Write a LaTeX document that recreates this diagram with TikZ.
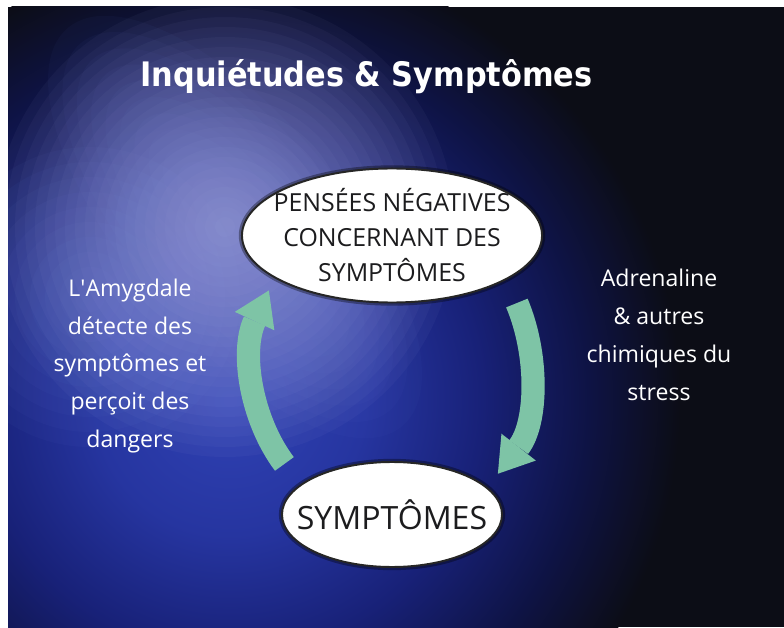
\documentclass[tikz,border=0pt]{standalone}
\usepackage{fontspec}
\setmainfont{Open Sans}
\newfontfamily\titlefont{DejaVu Sans Condensed}
\usetikzlibrary{positioning,arrows.meta,shapes.geometric,calc}

\definecolor{bgdark}{RGB}{12,13,22}
\definecolor{washA}{RGB}{48,66,180}
\definecolor{washB}{RGB}{38,53,160}
\definecolor{washC}{RGB}{24,33,120}
\definecolor{washD}{RGB}{14,19,68}
\definecolor{glowcol}{RGB}{186,186,236}
\definecolor{streakcol}{RGB}{96,116,210}
\definecolor{sidecol}{RGB}{110,134,222}
\definecolor{cycgreen}{RGB}{126,196,166}
\definecolor{inktext}{RGB}{28,28,30}

\pgfdeclareradialshading{bluewash}{\pgfpointorigin}{%
  color(0bp)=(washA); color(7.5bp)=(washB); color(14bp)=(washC);
  color(20bp)=(washD); color(25bp)=(bgdark); color(50bp)=(bgdark)}

% zero-width line, so the ellipse keeps its own size
\newcommand{\zw}[1]{\makebox[0pt]{#1}}

\begin{document}
\begin{tikzpicture}[x=0.025cm,y=0.025cm,
  bubble/.style={ellipse,draw=black!85,line width=1.4pt,fill=white,
                 inner sep=0pt,align=center,text=inktext,
                 preaction={draw=black,opacity=.35,line width=4.5pt}},
  sidetxt/.style={align=center,text=white,font=\fontsize{16.4}{27}\selectfont},
  cyc/.style={draw=cycgreen,line width=16.5pt,
              -{Triangle[length=24pt,width=31pt,line width=0pt]}},
  haze/.style={fill=#1,opacity=.045},
]
  % backdrop
  \fill[white] (0,0) rectangle (784,627);
  \begin{scope}
    \clip (8,0) rectangle (784,620);
    \fill[bgdark] (8,0) rectangle (784,620);
    \shade[shading=bluewash] (230,227) circle (450);
    \foreach \r in {20,40,...,260}
      \fill[haze=streakcol,rotate around={-50:(235,400)}]
        (235,400) ellipse ({\r} and {0.42*\r});
    \foreach \r in {15,30,...,150}
      \fill[haze=sidecol] (90,330) circle (\r);
    \foreach \r in {10,20,...,230}
      \fill[haze=glowcol] (225,400) circle (\r);
  \end{scope}

  \node[font=\titlefont\bfseries\fontsize{24}{28}\selectfont,text=white,anchor=base]
    (title) at (366.5,540) {Inquiétudes \& Symptômes};

  \node[bubble,minimum width=7.5cm,minimum height=3.35cm,
        font=\fontsize{17.7}{24.9}\selectfont] (pens) at (392,391.5)
    {\zw{PENSÉES NÉGATIVES}\\\zw{CONCERNANT DES}\\\zw{SYMPTÔMES}};
  \node[bubble,minimum width=5.5cm,minimum height=2.625cm,
        font=\fontsize{22.8}{27}\selectfont] (sym) at (392,112.5)
    {\zw{SYMPTÔMES}};

  \node[sidetxt] (amyg) at (130,261)
    {L\textquotesingle Amygdale\\détecte des\\symptômes et\\perçoit des\\dangers};
  \node[sidetxt] (adren) at (659,292.5)
    {Adrenaline\\\& autres\\chimiques du\\stress};

  \draw[cyc,shorten <=18.4pt,shorten >=9.6pt]
    (sym.162.5) to[out=127,in=-115] (pens.200);
  \draw[cyc,shorten <=18.1pt,shorten >=12.1pt]
    (pens.339.5) to[out=-67,in=52] (sym.16.9);
\end{tikzpicture}
\end{document}
